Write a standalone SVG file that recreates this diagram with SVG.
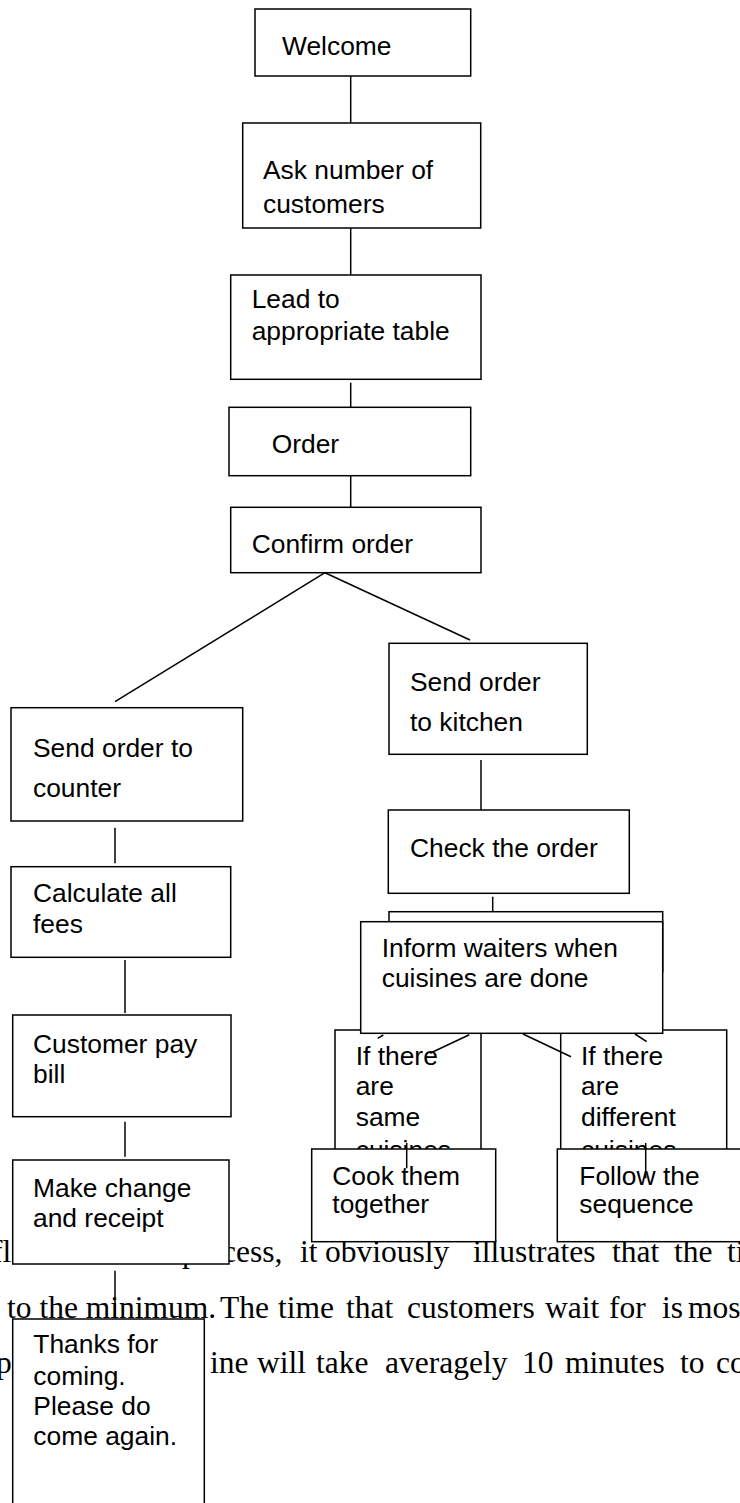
<svg xmlns="http://www.w3.org/2000/svg" width="740" height="1503" viewBox="0 0 740 1503">
<style>
.box{fill:#fff;stroke:#000;stroke-width:1.5}
.t{font-family:"Liberation Sans",Arial,sans-serif;font-size:26.4px;fill:#000}
.bg{font-family:"Liberation Serif","Times New Roman",serif;font-size:31.5px;fill:#000}
.c{stroke:#000;stroke-width:1.5;fill:none}
</style>
<rect x="0" y="0" width="740" height="1503" fill="#fff"/>
<g id="body-text">
<text class="bg" y="1261.7"><tspan x="-8">fl</tspan><tspan x="182">p</tspan><tspan x="222">cess,</tspan><tspan x="300">it</tspan><tspan x="325">obviously</tspan><tspan x="473">illustrates</tspan><tspan x="612">that</tspan><tspan x="674">the</tspan><tspan x="727">ti</tspan></text>
<text class="bg" y="1318.3"><tspan x="7">to the minimum.</tspan><tspan x="220">The</tspan><tspan x="278">time</tspan><tspan x="346">that</tspan><tspan x="407">customers</tspan><tspan x="545">wait</tspan><tspan x="609">for</tspan><tspan x="662">is</tspan><tspan x="688">most</tspan></text>
<text class="bg" y="1373.3"><tspan x="-4">p</tspan><tspan x="210">ine</tspan><tspan x="257">will</tspan><tspan x="316">take</tspan><tspan x="385">averagely</tspan><tspan x="522">10</tspan><tspan x="565">minutes</tspan><tspan x="680">to</tspan><tspan x="716">co</tspan></text>
</g>
<g id="welcome"><rect class="box" x="255" y="9" width="215.7" height="67"/><text class="t" x="282" y="55">Welcome</text></g>
<g id="ask"><rect class="box" x="242.7" y="123" width="238" height="105"/><text class="t" x="263" y="179">Ask number of</text><text class="t" x="263" y="212.5">customers</text></g>
<g id="lead"><rect class="box" x="230.7" y="275" width="250.3" height="104.3"/><text class="t" x="251.7" y="308.3">Lead to</text><text class="t" x="251.7" y="340">appropriate table</text></g>
<g id="order"><rect class="box" x="229" y="407.3" width="241.7" height="68.4"/><text class="t" x="271.7" y="453.3">Order</text></g>
<g id="confirm"><rect class="box" x="230.7" y="507.3" width="250.3" height="65.4"/><text class="t" x="251.7" y="553.3">Confirm order</text></g>
<g id="counter"><rect class="box" x="11" y="707.7" width="231.7" height="113.3"/><text class="t" x="33" y="756.7">Send order to</text><text class="t" x="33" y="796.7">counter</text></g>
<g id="calculate"><rect class="box" x="11" y="866.7" width="219.7" height="90.6"/><text class="t" x="33" y="901.7">Calculate all</text><text class="t" x="33" y="933.3">fees</text></g>
<g id="pay"><rect class="box" x="12.7" y="1015" width="218.3" height="101.7"/><text class="t" x="33" y="1053">Customer pay</text><text class="t" x="33" y="1083">bill</text></g>
<g id="change"><rect class="box" x="12.7" y="1160" width="216.3" height="104"/><text class="t" x="33" y="1196.7">Make change</text><text class="t" x="33" y="1226.7">and receipt</text></g>
<g id="kitchen"><rect class="box" x="389" y="643.3" width="198.3" height="111"/><text class="t" x="410" y="690.7">Send order</text><text class="t" x="410" y="731">to kitchen</text></g>
<g id="check"><rect class="box" x="388.3" y="810" width="241" height="83.3"/><text class="t" x="410" y="856.7">Check the order</text></g>
<g id="back-box"><rect class="box" x="389" y="911.7" width="273.7" height="60"/></g>
<g id="same"><rect class="box" x="335" y="1030" width="146" height="130"/><text class="t" x="355.7" y="1065">If there</text><text class="t" x="355.7" y="1095">are</text><text class="t" x="355.7" y="1126">same</text><text class="t" x="355.7" y="1159">cuisines</text></g>
<g id="different"><rect class="box" x="560.7" y="1030" width="166" height="130"/><text class="t" x="581" y="1065">If there</text><text class="t" x="581" y="1095">are</text><text class="t" x="581" y="1126">different</text><text class="t" x="581" y="1159">cuisines</text></g>
<g id="inform"><rect class="box" x="360.7" y="921.7" width="302" height="111.6"/><text class="t" x="381.7" y="956.7">Inform waiters when</text><text class="t" x="381.7" y="986.7">cuisines are done</text></g>
<g id="cook"><rect class="box" x="311.7" y="1149" width="184" height="92.7"/><text class="t" x="332.3" y="1185">Cook them</text><text class="t" x="332.3" y="1213.3">together</text></g>
<g id="follow"><rect class="box" x="557.3" y="1149" width="200" height="92.7"/><text class="t" x="579.3" y="1185">Follow the</text><text class="t" x="579.3" y="1213.3">sequence</text></g>
<g id="thanks"><rect class="box" x="12.7" y="1319" width="191.6" height="200"/><text class="t" x="33.3" y="1353.3">Thanks for</text><text class="t" x="33.3" y="1385">coming.</text><text class="t" x="33.3" y="1415">Please do</text><text class="t" x="33.3" y="1445">come again.</text></g>
<g id="connectors">
<line class="c" x1="350.7" y1="76" x2="350.7" y2="123"/>
<line class="c" x1="350.7" y1="228" x2="350.7" y2="275"/>
<line class="c" x1="350.7" y1="382.7" x2="350.7" y2="407.3"/>
<line class="c" x1="350.7" y1="475.7" x2="350.7" y2="507.3"/>
<line class="c" x1="325" y1="572.7" x2="115" y2="701.7"/>
<line class="c" x1="325" y1="572.7" x2="470" y2="640"/>
<line class="c" x1="115" y1="827.7" x2="115" y2="863.3"/>
<line class="c" x1="125" y1="960" x2="125" y2="1013"/>
<line class="c" x1="125" y1="1121.7" x2="125" y2="1156.7"/>
<line class="c" x1="115" y1="1270.7" x2="115" y2="1318"/>
<line class="c" x1="481" y1="760" x2="481" y2="810"/>
<line class="c" x1="492.7" y1="896.7" x2="492.7" y2="911.7"/>
<line class="c" x1="377.7" y1="1038.3" x2="383.3" y2="1035"/>
<line class="c" x1="469.3" y1="1034.7" x2="430" y2="1053.3"/>
<line class="c" x1="523" y1="1034" x2="571" y2="1056.7"/>
<line class="c" x1="635" y1="1034" x2="646.7" y2="1041.7"/>
<line class="c" x1="406.7" y1="1143" x2="406.7" y2="1168.3"/>
<line class="c" x1="645.7" y1="1143" x2="645.7" y2="1178.3"/>
</g>
</svg>
